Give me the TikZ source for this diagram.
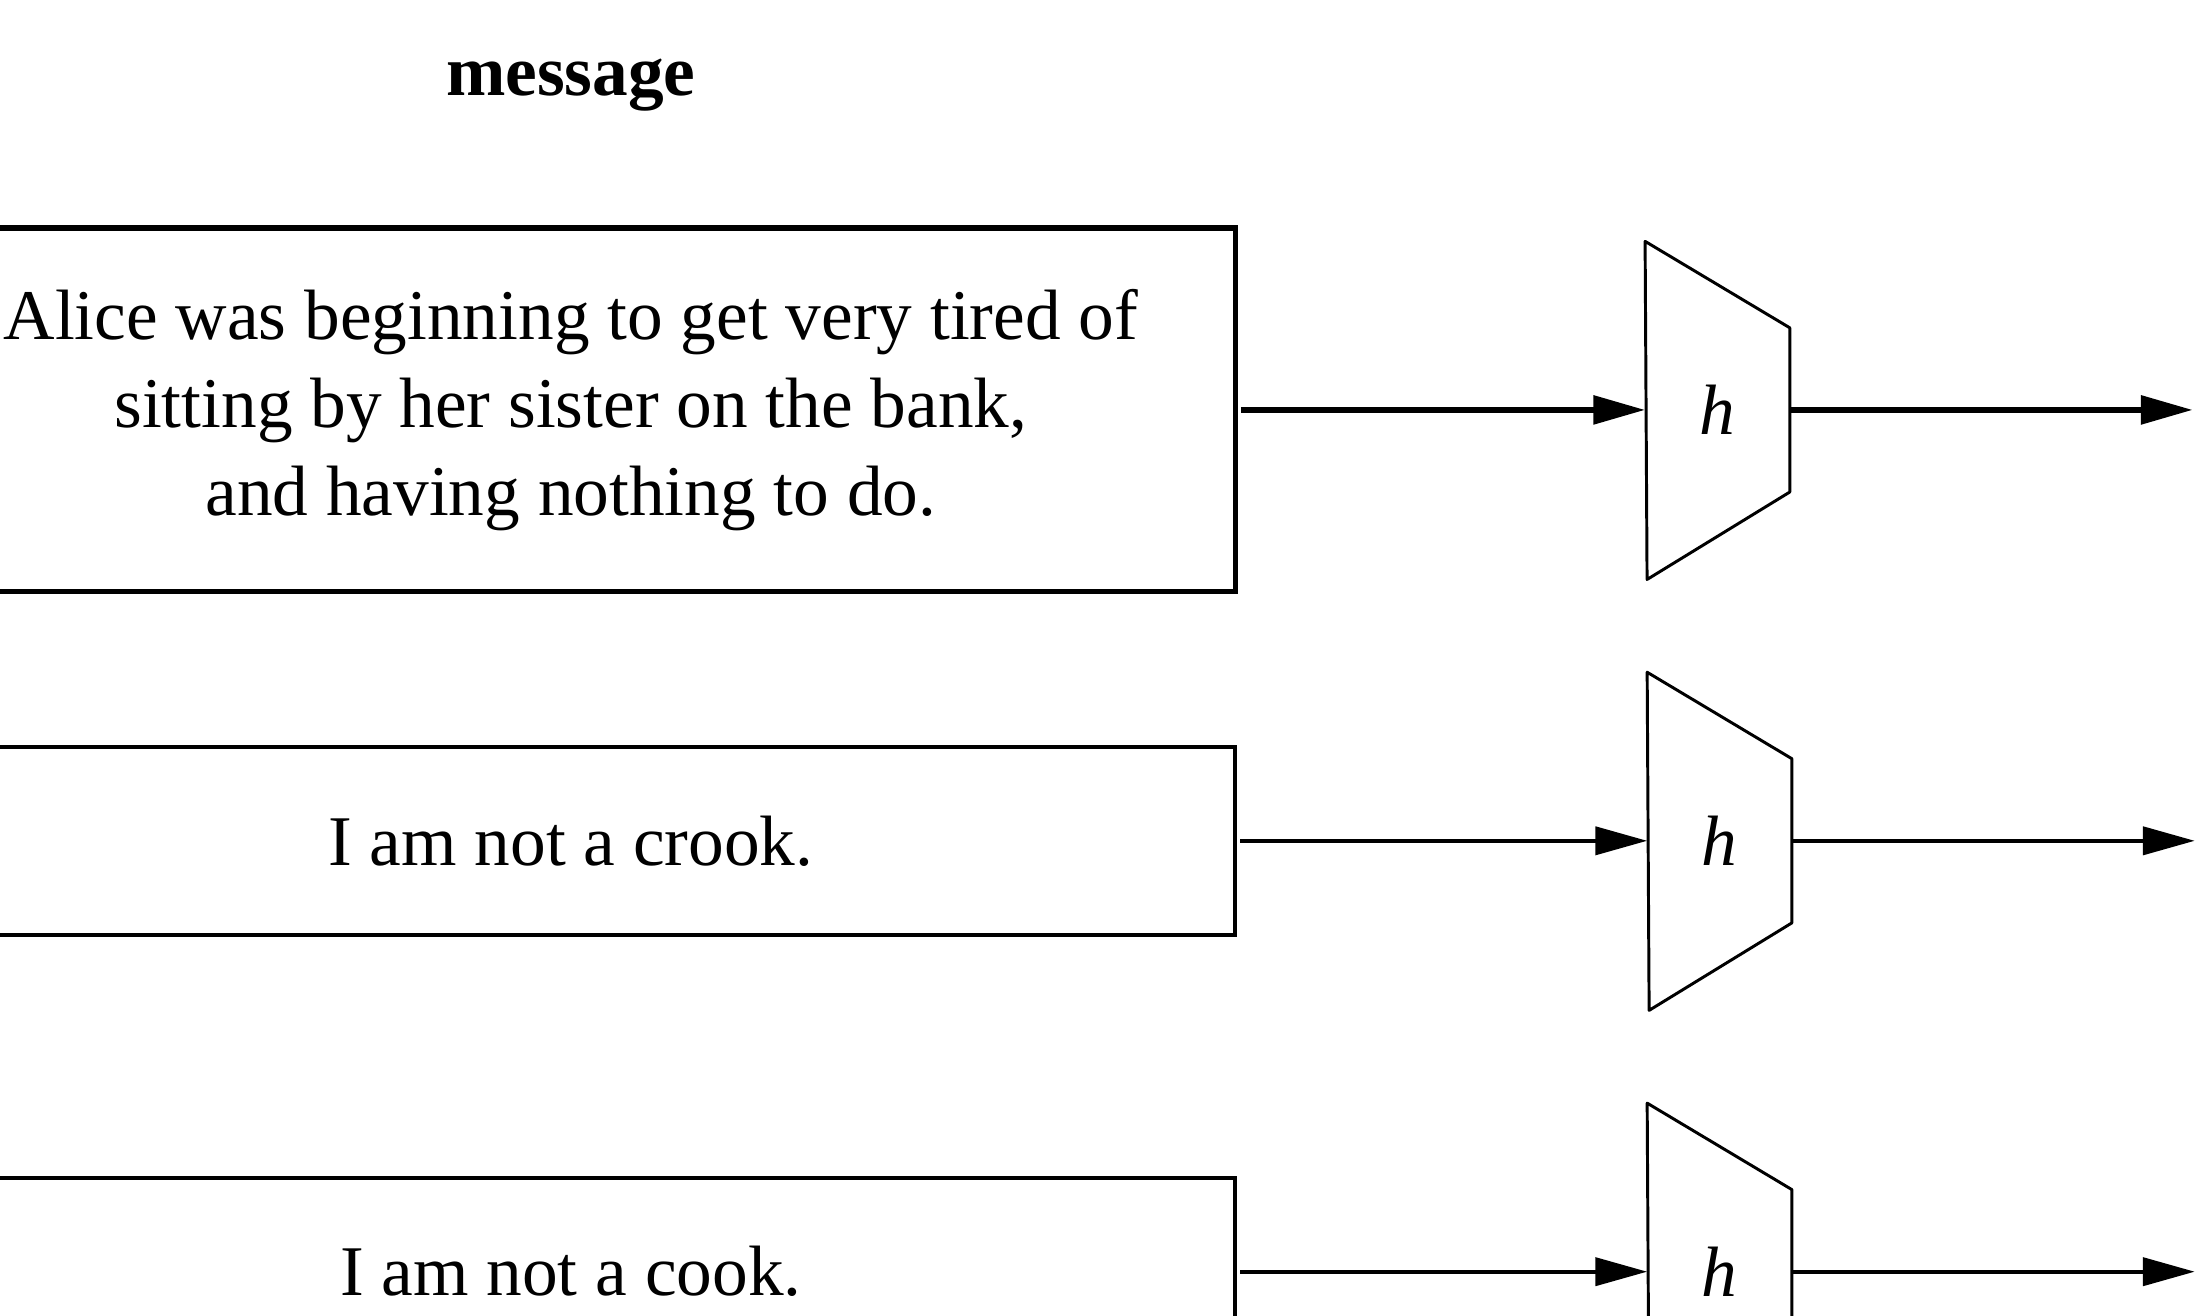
\documentclass[tikz,border=0pt]{standalone}
\usepackage{fontspec}
\setmainfont{Liberation Serif}
\usetikzlibrary{arrows.meta}
\usetikzlibrary{positioning}

\begin{document}
\begin{tikzpicture}[
		msg/.style={draw, line width=#1, minimum width=9.5cm, align=center,
			font=\fontsize{14.5}{17.9}\selectfont},
		hash/.style={minimum width=1.02cm, minimum height=1.16cm, inner sep=0pt,
			font=\fontsize{14.5}{17.9}\selectfont\itshape},
		A/.style={line width=#1, -{Triangle[length=0.37cm, width=0.2cm]}}
		]
		\useasboundingbox (0,0) rectangle (15.69,-9.40);
		\clip (0,0) rectangle (15.69,-9.40);
		
		% heading
		\node [anchor=base, font=\fontsize{14.5}{17.9}\selectfont\bfseries] (head) at (4.08,-0.68) {message};
		
		% the three messages
		\node [msg=1.1pt, minimum height=2.6cm] (m1) at (4.08,-2.93)
			{Alice was beginning to get very tired of\\ sitting by her sister on the bank,\\ and having nothing to do.};
		\node [msg=0.8pt, minimum height=1.34cm] (m2) at (4.08,-6.01) {I am not a crook.};
		\node [msg=0.8pt, minimum height=1.34cm] (m3) at (4.08,-9.09) {I am not a cook.};
		
		% hash boxes
		\node [hash, right=2.91cm of m1] (h1) {h};
		\node [hash, right=2.93cm of m2] (h2) {h};
		\node [hash, right=2.93cm of m3] (h3) {h};
		
		\foreach \r/\w in {1/1.2pt,2/0.8pt,3/0.8pt}{
			\draw [line width=0.6pt, line join=round] (h\r.west) ++(0,1.205) -- (h\r.north east) -- (h\r.south east)
				-- ++(-1.02,-0.625) -- cycle;
			\coordinate (o\r) at ([xshift=2.88cm]h\r.east);
			\draw [A=\w] ([xshift=0.02cm]m\r.east) -- (h\r.west);
			\draw [A=\w] (h\r.east) -- (o\r);
		}
		
\end{tikzpicture}
\end{document}
